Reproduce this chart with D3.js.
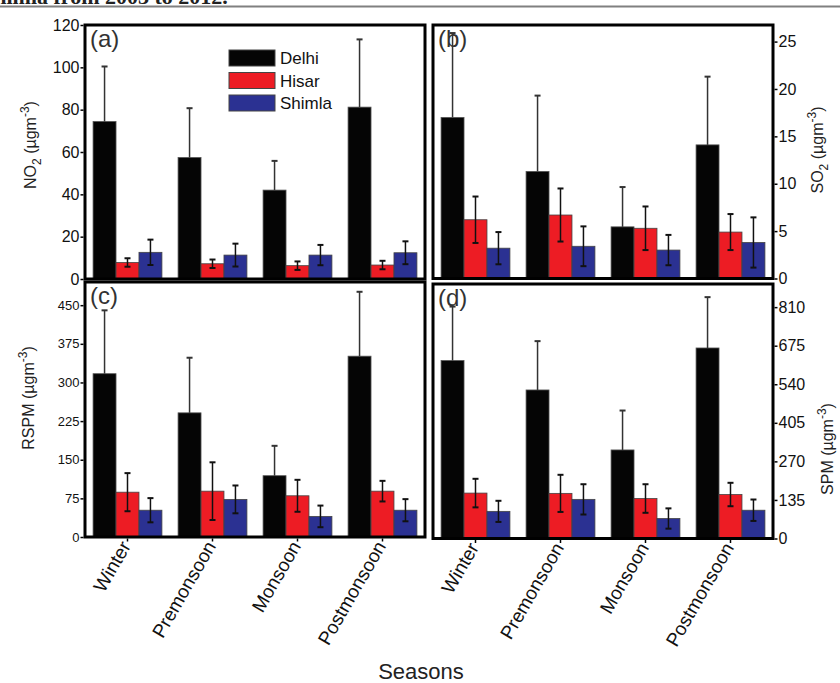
<!DOCTYPE html>
<html>
<head>
<meta charset="utf-8">
<script src="https://cdn.jsdelivr.net/npm/d3@7"></script>
<style>
  body { margin: 0; background: #fff; }
  text { font-family: "Liberation Sans", Arial, sans-serif; }
</style>
</head>
<body>
<div id="chart"></div>
<script>
var seasons = ["Winter", "Premonsoon", "Monsoon", "Postmonsoon"];
var cities = ["Delhi", "Hisar", "Shimla"];
var colors = ["#050505", "#ed1c24", "#2b3192"];

// means and standard deviations
var no2Mean = [[74.4, 57.4, 42, 81.2], [7.8, 7.2, 6.3, 6.6], [12.6, 11.3, 11.3, 12.4]];
var no2Sd   = [[26, 23.3, 13.8, 32], [2, 2, 2, 2], [6, 5.4, 4.8, 5.4]];
var so2Mean = [[17, 11.3, 5.45, 14.1], [6.2, 6.7, 5.3, 4.9], [3.2, 3.4, 3.0, 3.8]];
var so2Sd   = [[8.9, 8, 4.2, 7.2], [2.45, 2.8, 2.3, 1.9], [1.7, 2.1, 1.6, 2.65]];
var rspmMean = [[317, 241, 119, 351], [87, 89, 80, 89], [52, 73, 40, 52]];
var rspmSd   = [[123, 107, 58, 125], [37, 56, 31, 20], [23.5, 27, 21, 21.5]];
var spmMean = [[623, 520, 310, 667], [159, 158, 140, 154], [95, 137, 70, 99]];
var spmSd   = [[189, 171, 138, 178], [50, 65, 50, 41], [37, 53, 35.5, 37.5]];

var no2Ticks = [0, 20, 40, 60, 80, 100, 120];
var so2Ticks = [0, 5, 10, 15, 20, 25];
var rspmTicks = [0, 75, 150, 225, 300, 375, 450];
var spmTicks = [0, 135, 270, 405, 540, 675, 810];

var W = 840, H = 683;
var svg = d3.select("#chart").append("svg")
  .attr("width", W).attr("height", H);

// caption remnant (cut by the page edge, as in the source) and rule
svg.append("text")
  .attr("x", -18).attr("y", 4)
  .style("font-family", "'Liberation Serif', serif")
  .style("font-weight", "bold")
  .style("font-size", "22px")
  .attr("fill", "#222")
  .text("Shimla from 2003 to 2012.");
svg.append("line")
  .attr("x1", 0).attr("x2", W).attr("y1", 6.5).attr("y2", 6.5)
  .attr("stroke", "#808080").attr("stroke-width", 2);

function panel(p) {
  var x = d3.scaleBand().domain(seasons).range([p.x0, p.x1])
    .paddingInner(0.19).paddingOuter(0.095);
  var xs = d3.scaleBand().domain(d3.range(cities.length)).range([0, x.bandwidth()]);
  var y = d3.scaleLinear().domain([0, p.ymax]).range([p.y1, p.y0]);
  var g = svg.append("g");

  // bars
  cities.forEach(function(c, ci) {
    g.selectAll(null).data(seasons).enter().append("rect")
      .attr("x", function(s) { return x(s) + xs(ci); })
      .attr("width", xs.bandwidth())
      .attr("y", function(s, i) { return y(p.mean[ci][i]); })
      .attr("height", function(s, i) { return y(0) - y(p.mean[ci][i]); })
      .attr("fill", colors[ci])
      .attr("stroke", ci == 0 ? "#555" : "#444")
      .attr("stroke-width", 0.8);
  });

  // error bars
  cities.forEach(function(c, ci) {
    seasons.forEach(function(s, i) {
      var cx = x(s) + xs(ci) + xs.bandwidth() / 2;
      var m = p.mean[ci][i], sd = p.sd[ci][i];
      var top = y(m + sd);
      var bot = ci == 0 ? y(m) : y(m - sd);
      var col = ci == 0 ? "#333" : "#111";
      g.append("line").attr("x1", cx).attr("x2", cx)
        .attr("y1", top).attr("y2", bot)
        .attr("stroke", col).attr("stroke-width", 1.5);
      g.append("line").attr("x1", cx - 3).attr("x2", cx + 3)
        .attr("y1", top).attr("y2", top)
        .attr("stroke", col).attr("stroke-width", 2);
      if (ci > 0) {
        g.append("line").attr("x1", cx - 3).attr("x2", cx + 3)
          .attr("y1", bot).attr("y2", bot)
          .attr("stroke", col).attr("stroke-width", 2);
      }
    });
  });

  // frame
  g.append("rect")
    .attr("x", p.x0).attr("y", p.y0)
    .attr("width", p.x1 - p.x0).attr("height", p.y1 - p.y0)
    .attr("fill", "none").attr("stroke", "#000").attr("stroke-width", 3);

  // y axis
  var ax = p.side == "left" ? d3.axisLeft(y) : d3.axisRight(y);
  ax.tickValues(p.ticks).tickSize(3).tickPadding(1);
  var ag = g.append("g")
    .attr("transform", "translate(" + (p.side == "left" ? p.x0 - 1.5 : p.x1 + 1.5) + ",0)")
    .call(ax);
  ag.select(".domain").remove();
  ag.selectAll("line").attr("stroke", "#000").attr("stroke-width", 1.5);
  ag.selectAll("text")
    .style("font-size", p.tickFont + "px")
    .attr("fill", "#111");

  // panel tag
  g.append("text")
    .attr("x", p.x0 + 5).attr("y", p.y0 + 22)
    .style("font-size", "24px")
    .attr("fill", "#333")
    .text(p.tag);

  // y label
  var lab = g.append("text")
    .attr("transform", "translate(" + p.labX + "," + p.labY + ") rotate(-90)")
    .attr("text-anchor", "middle")
    .style("font-size", "16px")
    .attr("fill", "#222");
  lab.append("tspan").text(p.name);
  if (p.sub) lab.append("tspan").attr("dy", 5).style("font-size", "12px").text(p.sub);
  lab.append("tspan").attr("dy", p.sub ? -5 : 0).text(" (\u00b5gm");
  lab.append("tspan").attr("dy", -7).style("font-size", "12px").text("-3");
  lab.append("tspan").attr("dy", 7).text(")");

  // x axis ticks and labels on the bottom panels
  if (p.xlabels) {
    var xa = d3.axisBottom(x).tickSize(3).tickFormat("");
    var xg = g.append("g").attr("transform", "translate(0," + (p.y1 + 1.5) + ")").call(xa);
    xg.select(".domain").remove();
    xg.selectAll("line").attr("stroke", "#000").attr("stroke-width", 1.5);
    g.selectAll(null).data(seasons).enter().append("text")
      .attr("transform", function(s) {
        return "translate(" + (x(s) + x.bandwidth() / 2 + 4) + "," + (p.y1 + 9) + ") rotate(-60)";
      })
      .attr("text-anchor", "end")
      .style("font-size", "19px")
      .attr("fill", "#111")
      .text(function(s) { return s; });
  }
  return {x: x, y: y, g: g};
}

panel({x0: 85, x1: 425, y0: 25, y1: 279, ymax: 120, mean: no2Mean, sd: no2Sd,
  ticks: no2Ticks, side: "left", tickFont: 16, tag: "(a)", name: "NO", sub: "2",
  labX: 36, labY: 145});
panel({x0: 433, x1: 773, y0: 25, y1: 278.5, ymax: 26.75, mean: so2Mean, sd: so2Sd,
  ticks: so2Ticks, side: "right", tickFont: 16, tag: "(b)", name: "SO", sub: "2",
  labX: 823, labY: 150});
panel({x0: 85, x1: 425, y0: 282, y1: 537, ymax: 495, mean: rspmMean, sd: rspmSd,
  ticks: rspmTicks, side: "left", tickFont: 13, tag: "(c)", name: "RSPM", sub: null,
  labX: 34, labY: 398, xlabels: true});
panel({x0: 433, x1: 773, y0: 284, y1: 538.5, ymax: 891, mean: spmMean, sd: spmSd,
  ticks: spmTicks, side: "right", tickFont: 16, tag: "(d)", name: "SPM", sub: null,
  labX: 833, labY: 449, xlabels: true});

// legend in panel (a)
var leg = svg.append("g");
cities.forEach(function(c, i) {
  leg.append("rect")
    .attr("x", 229).attr("y", 50 + i * 22.5)
    .attr("width", 46).attr("height", 16)
    .attr("fill", colors[i]).attr("stroke", "#444").attr("stroke-width", 1);
  leg.append("text")
    .attr("x", 280).attr("y", 50 + i * 22.5 + 14)
    .style("font-size", "17px")
    .attr("fill", "#111")
    .text(c);
});

svg.append("text")
  .attr("x", 421).attr("y", 679)
  .attr("text-anchor", "middle")
  .style("font-size", "22px")
  .attr("fill", "#222")
  .text("Seasons");
</script>
</body>
</html>
